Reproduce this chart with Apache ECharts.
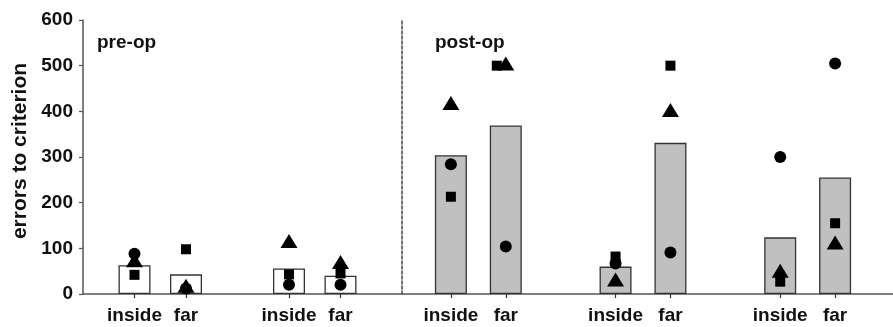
<!DOCTYPE html>
<html><head><meta charset="utf-8">
<script src="https://cdn.jsdelivr.net/npm/echarts@6/dist/echarts.min.js"></script>
<style>html,body{margin:0;padding:0;background:#fff}#c{width:893px;height:327px}</style>
</head><body><div id="c"></div>
<script>
const yTicks = [0, 100, 200, 300, 400, 500, 600];
const preCats = ['', 'inside', 'far', '', 'inside', 'far', ''];
const postCats = ['', 'inside', 'far', '', 'inside', 'far', '', 'inside', 'far', ''];
const preBars = ['-', 63, 43, '-', 56, 40, '-'];
const preCircle = ['-', 88, 12, '-', 20, 20, '-'];
const preSquare = ['-', 42, 98, '-', 43, 45, '-'];
const preTriangle = ['-', 74, 18, '-', 116, 70, '-'];
const postBars = ['-', 304, 369, '-', 60, 331, '-', 124, 255, '-'];
const postCircle = ['-', 284, 104, '-', 67, 91, '-', 300, 505, '-'];
const postSquare = ['-', 213, 500, '-', 82, 500, '-', 27, 155, '-'];
const postTriangle = ['-', 418, 505, '-', 32, 403, '-', 51, 113, '-'];
const panelLabels = ['pre-op', 'post-op'];
const yName = 'errors to criterion';

const FONT = '"Liberation Sans", Arial, sans-serif';
const AX = '#555';
const chart = echarts.init(document.getElementById('c'), null, {renderer: 'canvas'});

function catAxis(gi, cats) {
  return {
    type: 'category', gridIndex: gi, data: cats, boundaryGap: false,
    axisLine: {show: false},
    axisTick: {show: true, length: 4, lineStyle: {color: '#333', width: 1.2},
      interval: (i, v) => v !== ''},
    axisLabel: {show: true, interval: 0, margin: 12, color: '#111', fontFamily: FONT,
      fontWeight: 'bold', fontSize: 19},
    splitLine: {show: false}
  };
}
function hidY(gi, showLine, offset) {
  return {
    type: 'value', gridIndex: gi, min: 0, max: 600, interval: 100, offset: offset || 0,
    axisLine: {show: showLine, lineStyle: {color: '#444', width: 1.5, type: [3, 2]}},
    axisTick: {show: false}, axisLabel: {show: false}, splitLine: {show: false}
  };
}
function panelSeries(gi, bars, circ, sq, tri, fill, sqOffsets) {
  return [
    {type: 'bar', xAxisIndex: gi, yAxisIndex: gi, data: bars, barWidth: 32,
      itemStyle: {color: fill, borderColor: '#333', borderWidth: 1.3}, z: 2, silent: true},
    {type: 'scatter', xAxisIndex: gi, yAxisIndex: gi, data: circ, symbol: 'circle', symbolSize: 12,
      itemStyle: {color: '#000', opacity: 1}, z: 3},
    {type: 'scatter', xAxisIndex: gi, yAxisIndex: gi,
      data: sq.map((v, i) => sqOffsets && sqOffsets[i] ? {value: v, symbolOffset: sqOffsets[i]} : v),
      symbol: 'rect', symbolSize: 10, itemStyle: {color: '#000', opacity: 1}, z: 4},
    {type: 'scatter', xAxisIndex: gi, yAxisIndex: gi, data: tri, symbol: 'triangle', symbolSize: [17, 14],
      itemStyle: {color: '#000', opacity: 1}, z: 5}
  ];
}
const postSqOffsets = {2: [-9, 0]};

chart.setOption({
  animation: false,
  backgroundColor: '#fff',
  grid: [
    {left: 83, right: 0, top: 20, bottom: 33},
    {left: 83, width: 309, top: 20, bottom: 33},
    {left: 396, right: 0, top: 20, bottom: 33}
  ],
  xAxis: [
    {type: 'value', gridIndex: 0, min: 0, max: 1,
      axisLine: {show: true, onZero: false, lineStyle: {color: AX, width: 1.5}},
      axisTick: {show: false}, axisLabel: {show: false}, splitLine: {show: false}},
    catAxis(1, preCats),
    catAxis(2, postCats)
  ],
  yAxis: [
    {type: 'value', gridIndex: 0, min: yTicks[0], max: yTicks[yTicks.length - 1], interval: 100,
      name: yName, nameLocation: 'middle', nameGap: 51, nameRotate: 90,
      nameTextStyle: {fontFamily: FONT, fontWeight: 'bold', fontSize: 21, color: '#111', padding: [0, 0, 0, 12]},
      axisLine: {show: true, lineStyle: {color: AX, width: 1.5}},
      axisTick: {show: true, length: 4, lineStyle: {color: AX, width: 1.2}},
      axisLabel: {margin: 10, color: '#111', fontFamily: FONT, fontWeight: 'bold', fontSize: 19},
      splitLine: {show: false}},
    hidY(1, false, 0),
    hidY(2, true, -6)
  ],
  graphic: [
    {type: 'text', left: 97, top: 33, style: {text: panelLabels[0], font: 'bold 19px ' + FONT, fill: '#111'}},
    {type: 'text', left: 435, top: 33, style: {text: panelLabels[1], font: 'bold 19px ' + FONT, fill: '#111'}}
  ],
  series: [
    ...panelSeries(1, preBars, preCircle, preSquare, preTriangle, '#ffffff', null),
    ...panelSeries(2, postBars, postCircle, postSquare, postTriangle, '#c0c0c0', postSqOffsets)
  ]
});
</script></body></html>
